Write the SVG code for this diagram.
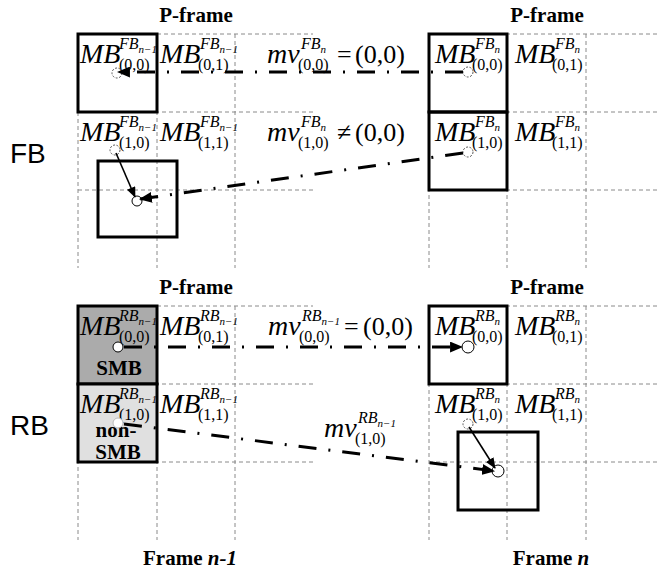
<svg xmlns="http://www.w3.org/2000/svg" width="659" height="573" viewBox="0 0 659 573">
<style>
.bg{fill:#fff}
.grid{stroke:#8a8a8a;stroke-width:1;stroke-dasharray:4 3;fill:none}
.box{stroke:#000;stroke-width:3;fill:none}
.smb{fill:#ababab}
.nsmb{fill:#e0e0e0}
.t{font-family:"Liberation Serif","Times New Roman",serif;fill:#000}
.big{font-size:28px;font-style:italic}
.sup{font-size:16px;font-style:italic}
.ss{font-size:11px;font-style:italic}
.sub{font-size:16px;font-style:normal}
.rel{font-size:26px;font-style:normal}
.hd{font-family:"Liberation Serif","Times New Roman",serif;font-weight:bold;font-size:21px;text-anchor:middle}
.side{font-family:"Liberation Sans",Arial,sans-serif;font-size:28px}
.dd{stroke:#000;stroke-width:3;fill:none;stroke-dasharray:18 12 2 12}
.thin{stroke:#000;stroke-width:1.6;fill:none}
.dc{stroke:#555;stroke-width:1;stroke-dasharray:2 1.5;fill:none}
.sc{stroke:#000;stroke-width:1;fill:none}
</style>
<defs>
<marker id="ah" viewBox="0 0 12 10" refX="11" refY="5" markerWidth="13" markerHeight="11" markerUnits="userSpaceOnUse" orient="auto"><path d="M0,0 L12,5 L0,10 Z" fill="#000"/></marker>
<marker id="ahs" viewBox="0 0 12 10" refX="11" refY="5" markerWidth="11" markerHeight="9" markerUnits="userSpaceOnUse" orient="auto"><path d="M0,0 L12,5 L0,10 Z" fill="#000"/></marker>
</defs>
<rect class="bg" x="0" y="0" width="659" height="573"/>

<g id="grid">
<path class="grid" d="M157,34H313M78,112H313M78,190H313M78,112V268M157,34V268M235,34V268"/>
<path class="grid" d="M429,34H659M429,112H659M429,190H659M429,34V268M507,34V268M586,34V268"/>
<path class="grid" d="M157,306H313M78,384H313M78,462H313M78,306V540M157,306V540M235,306V540"/>
<path class="grid" d="M429,306H659M429,384H659M429,462H659M429,306V540M507,306V540M586,306V540"/>
</g>

<g id="headings">
<text class="hd" x="196" y="22">P-frame</text>
<text class="hd" x="547" y="22">P-frame</text>
<text class="hd" x="196" y="294">P-frame</text>
<text class="hd" x="547" y="294">P-frame</text>
<text class="hd" x="190" y="565">Frame <tspan font-style="italic">n-1</tspan></text>
<text class="hd" x="551" y="565">Frame <tspan font-style="italic">n</tspan></text>
<text class="side" x="10" y="163">FB</text>
<text class="side" x="10" y="435">RB</text>
</g>

<g id="fb-prev">
<rect class="box" x="78" y="34" width="79" height="78"/>
<rect class="box" x="98" y="161" width="79" height="76"/>
<text class="t"><tspan class="big" x="80" y="63">MB</tspan><tspan class="sup" x="119" y="49">FB</tspan><tspan class="ss" y="53">n−1</tspan><tspan class="sub" x="119" y="70">(0,0)</tspan></text>
<text class="t"><tspan class="big" x="160" y="63">MB</tspan><tspan class="sup" x="200" y="49">FB</tspan><tspan class="ss" y="53">n−1</tspan><tspan class="sub" x="198" y="70">(0,1)</tspan></text>
<text class="t"><tspan class="big" x="80" y="141">MB</tspan><tspan class="sup" x="119" y="127">FB</tspan><tspan class="ss" y="131">n−1</tspan><tspan class="sub" x="119" y="148">(1,0)</tspan></text>
<text class="t"><tspan class="big" x="160" y="141">MB</tspan><tspan class="sup" x="200" y="127">FB</tspan><tspan class="ss" y="131">n−1</tspan><tspan class="sub" x="198" y="148">(1,1)</tspan></text>
</g>

<g id="fb-cur">
<rect class="box" x="429" y="34" width="78" height="78"/>
<rect class="box" x="429" y="112" width="78" height="78"/>
<text class="t"><tspan class="big" x="435" y="63">MB</tspan><tspan class="sup" x="475" y="49">FB</tspan><tspan class="ss" y="53">n</tspan><tspan class="sub" x="472" y="70">(0,0)</tspan></text>
<text class="t"><tspan class="big" x="515" y="63">MB</tspan><tspan class="sup" x="555" y="49">FB</tspan><tspan class="ss" y="53">n</tspan><tspan class="sub" x="552" y="70">(0,1)</tspan></text>
<text class="t"><tspan class="big" x="435" y="141">MB</tspan><tspan class="sup" x="475" y="127">FB</tspan><tspan class="ss" y="131">n</tspan><tspan class="sub" x="472" y="148">(1,0)</tspan></text>
<text class="t"><tspan class="big" x="515" y="141">MB</tspan><tspan class="sup" x="555" y="127">FB</tspan><tspan class="ss" y="131">n</tspan><tspan class="sub" x="552" y="148">(1,1)</tspan></text>
</g>

<g id="rb-prev">
<rect class="box smb" x="78" y="306" width="79" height="78"/>
<rect class="box nsmb" x="78" y="384" width="79" height="78"/>
<text class="t"><tspan class="big" x="80" y="335">MB</tspan><tspan class="sup" x="119" y="321">RB</tspan><tspan class="ss" y="325">n−1</tspan><tspan class="sub" x="119" y="342">(0,0)</tspan></text>
<text class="t"><tspan class="big" x="160" y="335">MB</tspan><tspan class="sup" x="200" y="321">RB</tspan><tspan class="ss" y="325">n−1</tspan><tspan class="sub" x="198" y="342">(0,1)</tspan></text>
<text class="t"><tspan class="big" x="80" y="413">MB</tspan><tspan class="sup" x="119" y="399">RB</tspan><tspan class="ss" y="403">n−1</tspan><tspan class="sub" x="119" y="420">(1,0)</tspan></text>
<text class="t"><tspan class="big" x="160" y="413">MB</tspan><tspan class="sup" x="200" y="399">RB</tspan><tspan class="ss" y="403">n−1</tspan><tspan class="sub" x="198" y="420">(1,1)</tspan></text>
<text class="hd" x="119" y="375">SMB</text>
<text class="hd" x="116" y="437">non-</text>
<text class="hd" x="118" y="459">SMB</text>
</g>

<g id="rb-cur">
<rect class="box" x="429" y="306" width="78" height="78"/>
<rect class="box" x="458" y="432" width="80" height="78"/>
<text class="t"><tspan class="big" x="435" y="335">MB</tspan><tspan class="sup" x="475" y="321">RB</tspan><tspan class="ss" y="325">n</tspan><tspan class="sub" x="472" y="342">(0,0)</tspan></text>
<text class="t"><tspan class="big" x="515" y="335">MB</tspan><tspan class="sup" x="555" y="321">RB</tspan><tspan class="ss" y="325">n</tspan><tspan class="sub" x="552" y="342">(0,1)</tspan></text>
<text class="t"><tspan class="big" x="435" y="413">MB</tspan><tspan class="sup" x="475" y="399">RB</tspan><tspan class="ss" y="403">n</tspan><tspan class="sub" x="472" y="420">(1,0)</tspan></text>
<text class="t"><tspan class="big" x="515" y="413">MB</tspan><tspan class="sup" x="555" y="399">RB</tspan><tspan class="ss" y="403">n</tspan><tspan class="sub" x="552" y="420">(1,1)</tspan></text>
</g>

<g id="mv-labels">
<text class="t"><tspan class="big" x="267" y="63">mv</tspan><tspan class="sup" x="301" y="49">FB</tspan><tspan class="ss" y="53">n</tspan><tspan class="sub" x="298" y="70">(0,0)</tspan><tspan class="rel" x="337" y="63">=</tspan><tspan class="rel" x="355" y="63">(0,0)</tspan></text>
<text class="t"><tspan class="big" x="267" y="141">mv</tspan><tspan class="sup" x="301" y="127">FB</tspan><tspan class="ss" y="131">n</tspan><tspan class="sub" x="298" y="148">(1,0)</tspan><tspan class="rel" x="337" y="141">≠</tspan><tspan class="rel" x="355" y="141">(0,0)</tspan></text>
<text class="t"><tspan class="big" x="268" y="335">mv</tspan><tspan class="sup" x="302" y="321">RB</tspan><tspan class="ss" y="325">n−1</tspan><tspan class="sub" x="299" y="342">(0,0)</tspan><tspan class="rel" x="344" y="335">=</tspan><tspan class="rel" x="363" y="335">(0,0)</tspan></text>
<text class="t"><tspan class="big" x="324" y="437">mv</tspan><tspan class="sup" x="358" y="423">RB</tspan><tspan class="ss" y="427">n−1</tspan><tspan class="sub" x="355" y="444">(1,0)</tspan></text>
</g>

<g id="connectors">
<circle class="dc" cx="468" cy="72" r="5"/>
<circle class="dc" cx="117" cy="73" r="5"/>
<path class="dd" d="M463,72 H118" marker-end="url(#ah)"/>

<circle class="dc" cx="468" cy="152" r="5"/>
<circle class="dc" cx="115" cy="150" r="5"/>
<circle class="sc" cx="137" cy="201" r="5"/>
<path class="dd" d="M463,153 L140,199" marker-end="url(#ah)"/>
<path class="thin" d="M116,153 L135,197" marker-end="url(#ahs)"/>

<circle cx="118" cy="347" r="5" fill="#fff" stroke="#000" stroke-width="1"/>
<circle class="sc" cx="468" cy="347" r="6"/>
<path class="dd" d="M124,347 H462" marker-end="url(#ah)"/>

<circle cx="118" cy="423" r="5" fill="#fff" stroke="#bbb" stroke-width="1"/>
<circle class="dc" cx="468" cy="424" r="5"/>
<circle class="sc" cx="498" cy="471" r="6"/>
<path class="dd" d="M124,424 L494,471" marker-end="url(#ah)"/>
<path class="thin" d="M469,427 L495,468" marker-end="url(#ahs)"/>
</g>
</svg>
